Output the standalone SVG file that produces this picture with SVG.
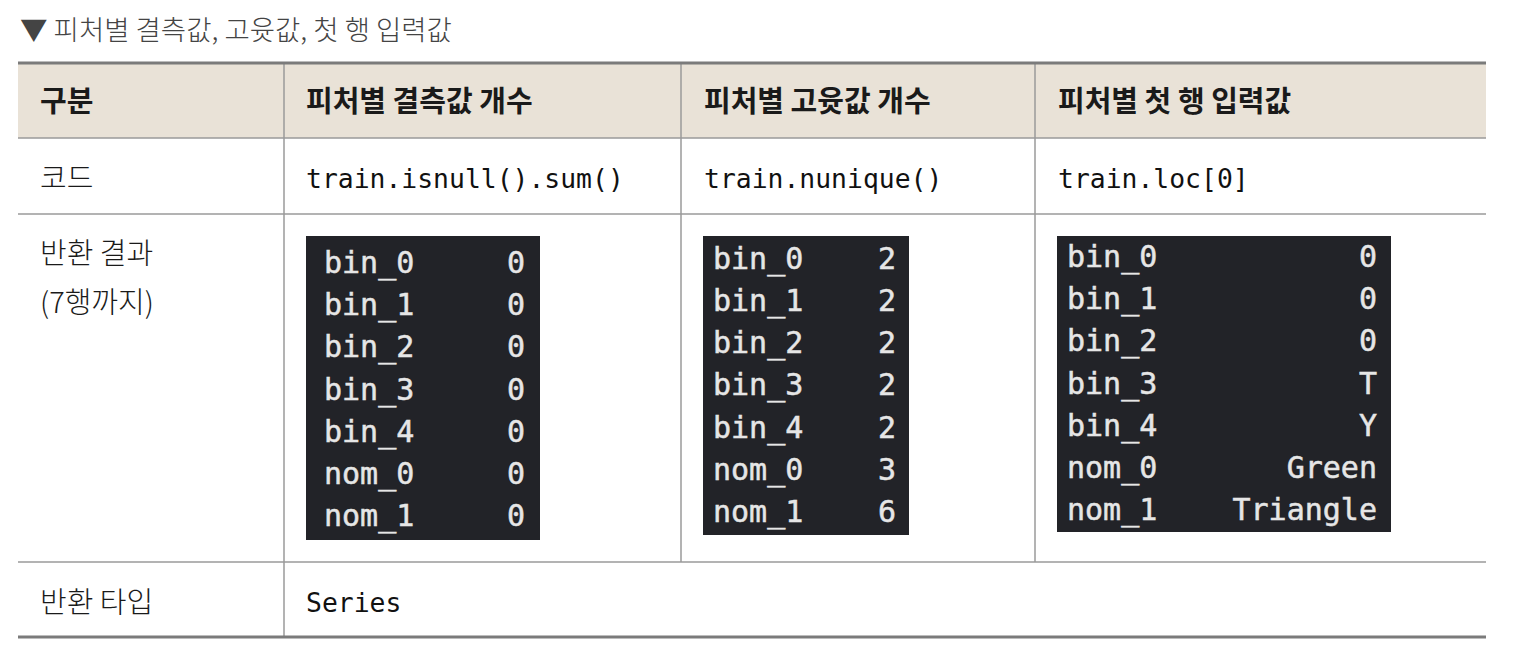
<svg xmlns="http://www.w3.org/2000/svg" width="1524" height="670" viewBox="0 0 1524 670">
<style>
.kr{font-family:"Noto Sans CJK KR","Noto Sans",sans-serif;fill:#1a1a1a}
.title{font-size:27.5px;fill:#444;font-weight:300}
.hd{font-size:29px;font-weight:700}
.lb{font-size:29px;font-weight:300}
.code{font-family:"DejaVu Sans Mono","Liberation Mono",monospace;font-size:26.4px;fill:#111}
.term{font-family:"DejaVu Sans Mono","Liberation Mono",monospace;font-size:30px;fill:#e6e6e6;stroke:#e6e6e6;stroke-width:0.5}
.box{fill:#222328}
.grid{stroke:#9a9a9a;stroke-width:1.5}
.thick{stroke:#7b7b7b;stroke-width:3}
</style>
<rect width="1524" height="670" fill="#ffffff"/>
<text id="title" class="kr title" x="20" y="40">▼ 피처별 결측값, 고윳값, 첫 행 입력값</text>

<g id="table-grid">
<rect x="18" y="63" width="1468" height="75" fill="#e9e2d7"/>
<line class="grid" x1="18" y1="138" x2="1486" y2="138"/>
<line class="grid" x1="18" y1="214" x2="1486" y2="214"/>
<line class="grid" x1="18" y1="562" x2="1486" y2="562"/>
<line class="grid" x1="284" y1="63" x2="284" y2="637"/>
<line class="grid" x1="681" y1="63" x2="681" y2="562"/>
<line class="grid" x1="1035" y1="63" x2="1035" y2="562"/>
<line class="thick" x1="18" y1="63" x2="1486" y2="63"/>
<line class="thick" x1="18" y1="637" x2="1486" y2="637"/>
</g>

<g id="header">
<text class="kr hd" x="40" y="112">구분</text>
<text class="kr hd" x="306" y="112">피처별 결측값 개수</text>
<text class="kr hd" x="704" y="112">피처별 고윳값 개수</text>
<text class="kr hd" x="1058" y="112">피처별 첫 행 입력값</text>
</g>

<g id="row-code">
<text class="kr lb" x="40" y="189">코드</text>
<text class="code" x="306" y="188">train.isnull().sum()</text>
<text class="code" x="704" y="188">train.nunique()</text>
<text class="code" x="1058" y="188">train.loc[0]</text>
</g>

<g id="row-result">
<text class="kr lb" x="40" y="264">반환 결과</text>
<text class="kr lb" x="40" y="313">(7행까지)</text>
</g>

<g id="out-isnull">
<rect class="box" x="306" y="236" width="234" height="304"/>
<text class="term" x="324" y="273">bin_0</text>
<text class="term" x="324" y="315">bin_1</text>
<text class="term" x="324" y="357">bin_2</text>
<text class="term" x="324" y="400">bin_3</text>
<text class="term" x="324" y="442">bin_4</text>
<text class="term" x="324" y="484">nom_0</text>
<text class="term" x="324" y="526">nom_1</text>
<g text-anchor="end">
<text class="term" x="525" y="273">0</text>
<text class="term" x="525" y="315">0</text>
<text class="term" x="525" y="357">0</text>
<text class="term" x="525" y="400">0</text>
<text class="term" x="525" y="442">0</text>
<text class="term" x="525" y="484">0</text>
<text class="term" x="525" y="526">0</text>
</g>
</g>

<g id="out-nunique">
<rect class="box" x="703" y="236" width="206" height="299"/>
<text class="term" x="713" y="269">bin_0</text>
<text class="term" x="713" y="311">bin_1</text>
<text class="term" x="713" y="353">bin_2</text>
<text class="term" x="713" y="395">bin_3</text>
<text class="term" x="713" y="438">bin_4</text>
<text class="term" x="713" y="480">nom_0</text>
<text class="term" x="713" y="522">nom_1</text>
<g text-anchor="end">
<text class="term" x="896" y="269">2</text>
<text class="term" x="896" y="311">2</text>
<text class="term" x="896" y="353">2</text>
<text class="term" x="896" y="395">2</text>
<text class="term" x="896" y="438">2</text>
<text class="term" x="896" y="480">3</text>
<text class="term" x="896" y="522">6</text>
</g>
</g>

<g id="out-loc">
<rect class="box" x="1057" y="236" width="334" height="296"/>
<text class="term" x="1067" y="267">bin_0</text>
<text class="term" x="1067" y="309">bin_1</text>
<text class="term" x="1067" y="351">bin_2</text>
<text class="term" x="1067" y="394">bin_3</text>
<text class="term" x="1067" y="436">bin_4</text>
<text class="term" x="1067" y="478">nom_0</text>
<text class="term" x="1067" y="520">nom_1</text>
<g text-anchor="end">
<text class="term" x="1377" y="267">0</text>
<text class="term" x="1377" y="309">0</text>
<text class="term" x="1377" y="351">0</text>
<text class="term" x="1377" y="394">T</text>
<text class="term" x="1377" y="436">Y</text>
<text class="term" x="1377" y="478">Green</text>
<text class="term" x="1377" y="520">Triangle</text>
</g>
</g>

<g id="row-type">
<text class="kr lb" x="40" y="613">반환 타입</text>
<text class="code" x="306" y="612">Series</text>
</g>
</svg>
